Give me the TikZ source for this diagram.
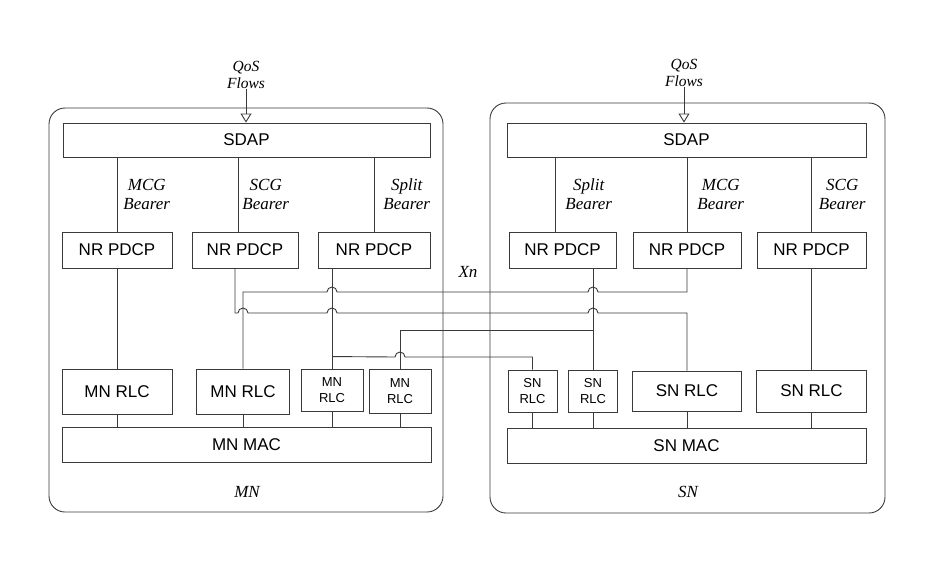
\documentclass[tikz,border=0pt]{standalone}
\usepackage{fontspec}
\setmainfont{Liberation Serif}
\setsansfont{Liberation Sans}
\usetikzlibrary{arrows.meta}
\definecolor{StackInk}{HTML}{3A3A3A}
\tikzset{
  link/.style={draw=StackInk,line width=0.9pt},
  qos/.style={-{Triangle[open,length=9pt,width=11pt]},draw=StackInk,line width=0.9pt},
  frame/.style={draw=StackInk,line width=0.9pt,rounded corners=16pt,inner sep=0pt},
  layer/.style={draw=StackInk,line width=0.9pt,inner sep=0pt,align=center,
    font=\sffamily\fontsize{17}{19}\selectfont},
  minirlc/.style={layer,font=\sffamily\fontsize{13}{16}\selectfont},
  lbl/.style={font=\itshape\fontsize{17}{19}\selectfont,align=center,inner sep=0pt},
  qoslbl/.style={lbl,font=\itshape\fontsize{15.5}{17}\selectfont}
}
\newcommand{\hopR}{arc[start angle=180,end angle=0,radius=5]}
\newcommand{\hopL}{arc[start angle=0,end angle=180,radius=5]}

\begin{document}
\begin{tikzpicture}[x=1pt,y=1pt]
  \useasboundingbox (0,0) rectangle (940,-560);

  % node boundaries
  \node[frame,minimum width=394,minimum height=404] (mnframe) at (246,-310) {};
  \node[frame,minimum width=395,minimum height=410] (snframe) at (687.5,-308) {};
  \node[lbl] (mnname) at (247,-492) {MN};
  \node[lbl] (snname) at (688,-492) {SN};
  \node[lbl] (xn) at (468,-272) {Xn};

  % MN stack
  \node[layer,minimum width=367,minimum height=34] (mnsdap) at (246.5,-140) {SDAP};
  \node[layer,minimum width=110,minimum height=36] (mnpdcp1) at (117,-250) {NR PDCP};
  \node[layer,minimum width=106,minimum height=36] (mnpdcp2) at (245,-250) {NR PDCP};
  \node[layer,minimum width=112,minimum height=36] (mnpdcp3) at (374,-250) {NR PDCP};
  \node[layer,minimum width=110,minimum height=45] (mnrlc1) at (117,-391.5) {MN RLC};
  \node[layer,minimum width=93,minimum height=45] (mnrlc2) at (243,-391.5) {MN RLC};
  \node[minirlc,minimum width=62,minimum height=42] (mnrlc3) at (332,-390) {MN\\RLC};
  \node[minirlc,minimum width=62,minimum height=44] (mnrlc4) at (400,-391) {MN\\RLC};
  \node[layer,minimum width=369,minimum height=35] (mnmac) at (246.5,-444.5) {MN MAC};

  % SN stack
  \node[layer,minimum width=359,minimum height=34] (snsdap) at (686.5,-140) {SDAP};
  \node[layer,minimum width=107,minimum height=36] (snpdcp1) at (562.5,-250) {NR PDCP};
  \node[layer,minimum width=108,minimum height=36] (snpdcp2) at (687,-250) {NR PDCP};
  \node[layer,minimum width=109,minimum height=36] (snpdcp3) at (811.5,-250) {NR PDCP};
  \node[minirlc,minimum width=49,minimum height=42] (snrlc1) at (532.5,-391) {SN\\RLC};
  \node[minirlc,minimum width=49,minimum height=42] (snrlc2) at (593,-391) {SN\\RLC};
  \node[layer,minimum width=109,minimum height=40] (snrlc3) at (687,-391) {SN RLC};
  \node[layer,minimum width=110,minimum height=42] (snrlc4) at (811.5,-391) {SN RLC};
  \node[layer,minimum width=359,minimum height=35] (snmac) at (686.5,-445.5) {SN MAC};

  % QoS flows into SDAP
  \node[qoslbl] (mnqos) at (246,-75) {QoS\\Flows};
  \node[qoslbl] (snqos) at (684,-73) {QoS\\Flows};
  \draw[qos] (mnqos.south) -- (mnqos.south |- mnsdap.north);
  \draw[qos] (snqos.south) -- (snqos.south |- snsdap.north);

  % bearers from SDAP
  \coordinate (mnscgT) at (238,0);
  \coordinate (mnscgB) at (235,0);
  \coordinate (snsplitT) at (555,0);
  \draw[link] (mnsdap.south -| mnpdcp1.north) -- node[lbl,right=6pt] {MCG\\Bearer} (mnpdcp1.north);
  \draw[link] (mnsdap.south -| mnscgT) -- node[lbl,right=4pt] {SCG\\Bearer} (mnpdcp2.north -| mnscgT);
  \draw[link] (mnsdap.south -| mnpdcp3.north) -- node[lbl,right=9pt] {Split\\Bearer} (mnpdcp3.north);
  \draw[link] (snsdap.south -| snsplitT) -- node[lbl,right=10pt] {Split\\Bearer} (snpdcp1.north -| snsplitT);
  \draw[link] (snsdap.south -| snpdcp2.north) -- node[lbl,right=10pt] {MCG\\Bearer} (snpdcp2.north);
  \draw[link] (snsdap.south -| snpdcp3.north) -- node[lbl,right=7pt] {SCG\\Bearer} (snpdcp3.north);

  % PDCP to RLC
  \draw[link] (mnpdcp1) -- (mnrlc1);
  \draw[link] (snpdcp3) -- (snrlc4);
  \draw[link] (mnpdcp2.south -| mnscgB) |- (238,-313) \hopR -- (327,-313) \hopR
    -- (588,-313) \hopR -| (snrlc3.north);
  \draw[link] (snpdcp2.south) |- (598,-292) \hopL -- (337,-292) \hopL -| (mnrlc2.north);
  \draw[link] (mnpdcp3.south -| mnrlc3.north) -- (mnrlc3.north);
  \draw[link] ([yshift=12pt]mnrlc3.north) -- (395,-357) \hopR -| (snrlc1.north);
  \draw[link] (snpdcp1.south -| snrlc2.north) -- (snrlc2.north);
  \draw[link] ([yshift=39pt]snrlc2.north) -| (mnrlc4.north);

  % RLC to MAC
  \foreach \r in {mnrlc1,mnrlc2,mnrlc3,mnrlc4}
    \draw[link] (\r.south) -- (\r.south |- mnmac.north);
  \foreach \r in {snrlc1,snrlc2,snrlc3,snrlc4}
    \draw[link] (\r.south) -- (\r.south |- snmac.north);
\end{tikzpicture}
\end{document}
